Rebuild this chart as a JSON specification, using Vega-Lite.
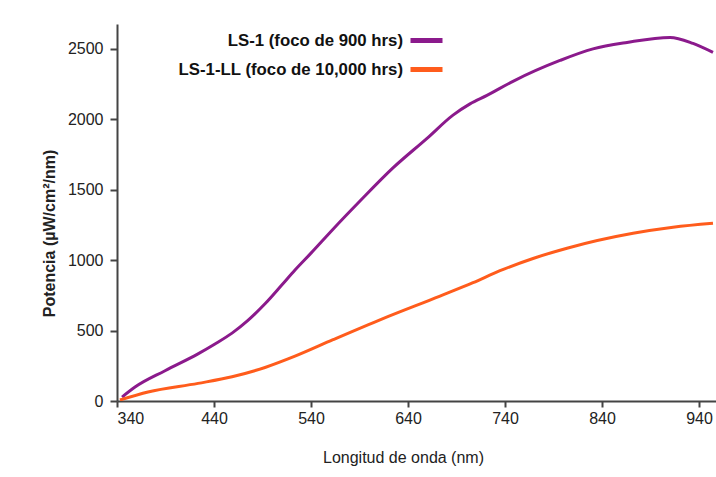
{
  "$schema": "https://vega.github.io/schema/vega-lite/v6.json",
  "width": 599,
  "height": 377,
  "autosize": {"type": "none"},
  "padding": {"left": 117, "top": 24, "right": 0, "bottom": 76},
  "background": "white",
  "config": {"view": {"stroke": null}, "font": "Liberation Sans"},
  "data": {
    "values": [
      {"series": "LS-1 (foco de 900 hrs)", "nm": 345.2, "p": 28},
      {"series": "LS-1 (foco de 900 hrs)", "nm": 358.6, "p": 99},
      {"series": "LS-1 (foco de 900 hrs)", "nm": 389.5, "p": 215},
      {"series": "LS-1 (foco de 900 hrs)", "nm": 423.5, "p": 335},
      {"series": "LS-1 (foco de 900 hrs)", "nm": 441, "p": 405},
      {"series": "LS-1 (foco de 900 hrs)", "nm": 458.6, "p": 482},
      {"series": "LS-1 (foco de 900 hrs)", "nm": 475, "p": 572},
      {"series": "LS-1 (foco de 900 hrs)", "nm": 492.6, "p": 690},
      {"series": "LS-1 (foco de 900 hrs)", "nm": 510.1, "p": 825},
      {"series": "LS-1 (foco de 900 hrs)", "nm": 523.5, "p": 930},
      {"series": "LS-1 (foco de 900 hrs)", "nm": 540, "p": 1050},
      {"series": "LS-1 (foco de 900 hrs)", "nm": 562.7, "p": 1220},
      {"series": "LS-1 (foco de 900 hrs)", "nm": 590.5, "p": 1420},
      {"series": "LS-1 (foco de 900 hrs)", "nm": 624.5, "p": 1655},
      {"series": "LS-1 (foco de 900 hrs)", "nm": 659.6, "p": 1865},
      {"series": "LS-1 (foco de 900 hrs)", "nm": 686.4, "p": 2030},
      {"series": "LS-1 (foco de 900 hrs)", "nm": 703.9, "p": 2110},
      {"series": "LS-1 (foco de 900 hrs)", "nm": 721.4, "p": 2170},
      {"series": "LS-1 (foco de 900 hrs)", "nm": 748.2, "p": 2270},
      {"series": "LS-1 (foco de 900 hrs)", "nm": 796.7, "p": 2418},
      {"series": "LS-1 (foco de 900 hrs)", "nm": 830.7, "p": 2500},
      {"series": "LS-1 (foco de 900 hrs)", "nm": 865.8, "p": 2546},
      {"series": "LS-1 (foco de 900 hrs)", "nm": 910.1, "p": 2582},
      {"series": "LS-1 (foco de 900 hrs)", "nm": 933.8, "p": 2539},
      {"series": "LS-1 (foco de 900 hrs)", "nm": 954.4, "p": 2475},
      {"series": "LS-1-LL (foco de 10,000 hrs)", "nm": 343, "p": 7},
      {"series": "LS-1-LL (foco de 10,000 hrs)", "nm": 372, "p": 64},
      {"series": "LS-1-LL (foco de 10,000 hrs)", "nm": 423.5, "p": 125},
      {"series": "LS-1-LL (foco de 10,000 hrs)", "nm": 458.6, "p": 172},
      {"series": "LS-1-LL (foco de 10,000 hrs)", "nm": 492.6, "p": 238},
      {"series": "LS-1-LL (foco de 10,000 hrs)", "nm": 523.5, "p": 318},
      {"series": "LS-1-LL (foco de 10,000 hrs)", "nm": 562.7, "p": 435},
      {"series": "LS-1-LL (foco de 10,000 hrs)", "nm": 614.2, "p": 585},
      {"series": "LS-1-LL (foco de 10,000 hrs)", "nm": 673, "p": 745},
      {"series": "LS-1-LL (foco de 10,000 hrs)", "nm": 707, "p": 840},
      {"series": "LS-1-LL (foco de 10,000 hrs)", "nm": 734.8, "p": 925},
      {"series": "LS-1-LL (foco de 10,000 hrs)", "nm": 768.9, "p": 1012},
      {"series": "LS-1-LL (foco de 10,000 hrs)", "nm": 803.9, "p": 1085},
      {"series": "LS-1-LL (foco de 10,000 hrs)", "nm": 872, "p": 1191},
      {"series": "LS-1-LL (foco de 10,000 hrs)", "nm": 913.2, "p": 1234},
      {"series": "LS-1-LL (foco de 10,000 hrs)", "nm": 954.4, "p": 1262}
    ]
  },
  "mark": {"type": "line", "strokeWidth": 3, "clip": true, "interpolate": "monotone"},
  "encoding": {
    "x": {
      "field": "nm",
      "type": "quantitative",
      "scale": {"domain": [340, 957.5], "nice": false, "zero": false},
      "axis": {
        "values": [340, 440, 540, 640, 740, 840, 940],
        "title": "Longitud de onda (nm)",
        "grid": false,
        "domainColor": "#444",
        "domainWidth": 2,
        "tickColor": "#444",
        "tickWidth": 2,
        "tickSize": 6,
        "labelFontSize": 16,
        "labelColor": "#222",
        "labelPadding": 3,
        "titleFontSize": 16,
        "titleFontWeight": "normal",
        "titleColor": "#222",
        "titleX": 286,
        "titleY": 61,
        "titleBaseline": "alphabetic"
      }
    },
    "y": {
      "field": "p",
      "type": "quantitative",
      "scale": {"domain": [0, 2677], "nice": false},
      "axis": {
        "values": [0, 500, 1000, 1500, 2000, 2500],
        "format": "d",
        "title": "Potencia (µW/cm²/nm)",
        "grid": false,
        "domainColor": "#444",
        "domainWidth": 2,
        "tickColor": "#444",
        "tickWidth": 2,
        "tickSize": 7,
        "labelFontSize": 16,
        "labelColor": "#222",
        "labelPadding": 7,
        "titleFontSize": 16,
        "titleFontWeight": "bold",
        "titleColor": "#222",
        "titleX": -60,
        "titleY": 209
      }
    },
    "color": {
      "field": "series",
      "type": "nominal",
      "scale": {
        "domain": ["LS-1 (foco de 900 hrs)", "LS-1-LL (foco de 10,000 hrs)"],
        "range": ["#8b1a8c", "#ff5c1c"]
      },
      "legend": {
        "title": null,
        "orient": "none",
        "legendX": 291,
        "legendY": -2,
        "direction": "vertical",
        "symbolType": "stroke",
        "symbolSize": 1024,
        "symbolStrokeWidth": 5,
        "labelAlign": "right",
        "labelOffset": -42,
        "labelFontSize": 16.8,
        "labelFontWeight": "bold",
        "labelColor": "#111",
        "rowPadding": -5,
        "labelLimit": 400
      }
    }
  }
}
